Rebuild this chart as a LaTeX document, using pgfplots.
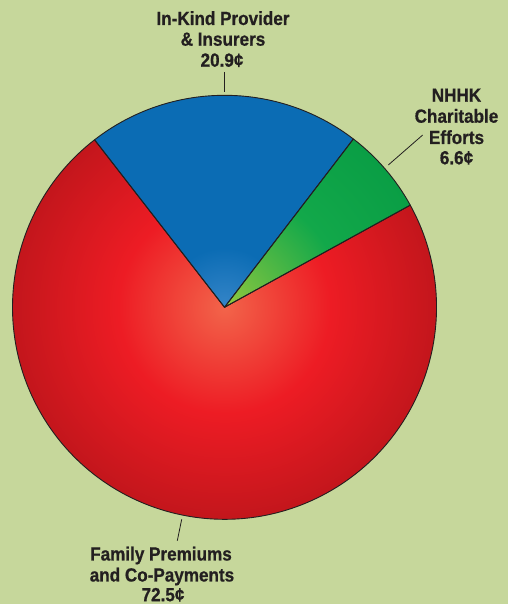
\documentclass[border=0pt]{standalone}
\usepackage{pgfplots}
\usepackage{pgfplotstable}
\pgfplotsset{compat=1.18}
\usepackage{fontspec}
\setmainfont{Liberation Sans}[FakeStretch=0.9, BoldFeatures={FakeBold=0.7}]
\definecolor{bg}{HTML}{C6D79B}
\definecolor{ink}{HTML}{231F20}
\definecolor{redc}{HTML}{F2644A}
\definecolor{redm}{HTML}{ED1C24}
\definecolor{rede}{HTML}{C3161C}
\definecolor{greenc}{HTML}{92C83E}
\definecolor{greenm}{HTML}{12A84A}
\definecolor{greene}{HTML}{0A9E45}
\definecolor{bluec}{HTML}{3585C8}
\definecolor{bluee}{HTML}{0B6CB4}
\pgfdeclareradialshading{redpie}{\pgfpoint{0bp}{0bp}}{color(0bp)=(redc); color(12.5bp)=(redm); color(25bp)=(rede); color(50bp)=(rede)}
\pgfdeclareradialshading{greenpie}{\pgfpoint{0bp}{0bp}}{color(0bp)=(greenc); color(14bp)=(greenm); color(25bp)=(greene); color(50bp)=(greene)}
\pgfdeclareradialshading{bluepie}{\pgfpoint{0bp}{0bp}}{color(0bp)=(bluec); color(7bp)=(bluee); color(25bp)=(bluee); color(50bp)=(bluee)}

\pgfplotstableread{
label value
InKind 20.9
NHHK 6.6
Family 72.5
}\piedata
\pgfplotstablegetelem{0}{value}\of\piedata \let\vA\pgfplotsretval
\pgfplotstablegetelem{1}{value}\of\piedata \let\vB\pgfplotsretval
\pgfplotstablegetelem{2}{value}\of\piedata \let\vC\pgfplotsretval
\pgfmathsetmacro\aA{127.8}
\pgfmathsetmacro\aB{\aA-3.6*\vA}
\pgfmathsetmacro\aC{\aB-3.6*\vB}
\pgfmathsetmacro\aD{\aC-3.6*\vC}
\def\cx{224.5}
\def\cy{296.7}
\def\R{212pt}

\begin{document}
\begin{tikzpicture}
\fill[bg] (0,0) rectangle (508pt,604pt);
\begin{axis}[
  at={(0,0)}, anchor=south west,
  x=1pt, y=1pt,
  xmin=0, xmax=508, ymin=0, ymax=604,
  hide axis, clip=false,
]
% red sector
\begin{scope}
\clip (axis cs:\cx,\cy) -- ++(\aC:\R) arc[start angle=\aC, end angle=\aD, radius=\R] -- cycle;
\shade[shading=redpie] (axis cs:\cx,\cy) circle (\R);
\end{scope}
% green sector
\begin{scope}
\clip (axis cs:\cx,\cy) -- ++(\aB:\R) arc[start angle=\aB, end angle=\aC, radius=\R] -- cycle;
\shade[shading=greenpie] (axis cs:\cx,\cy) circle (\R);
\end{scope}
% blue sector
\begin{scope}
\clip (axis cs:\cx,\cy) -- ++(\aA:\R) arc[start angle=\aA, end angle=\aB, radius=\R] -- cycle;
\shade[shading=bluepie] (axis cs:\cx,\cy) circle (\R);
\end{scope}
% outlines
\draw[ink, line width=0.9pt, line join=round] (axis cs:\cx,\cy) -- ++(\aA:\R) arc[start angle=\aA, end angle=\aB, radius=\R] -- cycle;
\draw[ink, line width=0.9pt, line join=round] (axis cs:\cx,\cy) -- ++(\aB:\R) arc[start angle=\aB, end angle=\aC, radius=\R] -- cycle;
\draw[ink, line width=0.9pt, line join=round] (axis cs:\cx,\cy) -- ++(\aC:\R) arc[start angle=\aC, end angle=\aD, radius=\R] -- cycle;
% leader lines
\draw[ink, line width=0.8pt] (axis cs:224.5,532) -- (axis cs:224.5,512);
\draw[ink, line width=0.8pt] (axis cs:388.3,439) -- (axis cs:422.7,469);
\draw[ink, line width=0.8pt] (axis cs:181.7,84.7) -- (axis cs:177.3,63.3);
% labels
\begin{scope}[every node/.style={ink, font=\fontsize{19}{21}\selectfont\bfseries, inner sep=0pt, anchor=base}]
\node at (axis cs:223,579) {In-Kind Provider};
\node at (axis cs:223,558.3) {\& Insurers};
\node at (axis cs:222,537.3) {20.9¢};
\node at (axis cs:456.5,502.3) {NHHK};
\node at (axis cs:456.5,481.3) {Charitable};
\node at (axis cs:456.5,460) {Efforts};
\node at (axis cs:456.5,439.7) {6.6¢};
\node at (axis cs:161,43.5) {Family Premiums};
\node at (axis cs:162,22.5) {and Co-Payments};
\node at (axis cs:163,2.8) {72.5¢};
\end{scope}
\end{axis}
\pgfresetboundingbox
\useasboundingbox (0,0) rectangle (508pt,604pt);
\end{tikzpicture}
\end{document}
